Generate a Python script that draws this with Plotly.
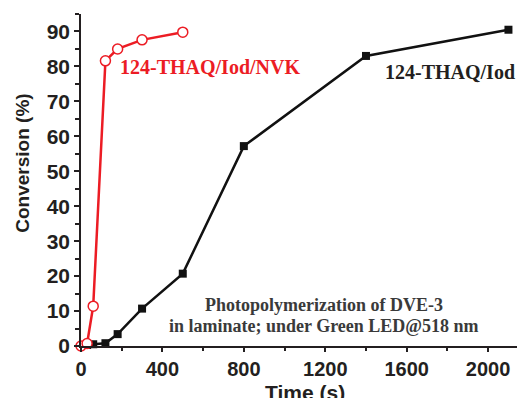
import plotly.graph_objects as go

# Conversion vs irradiation time
time_nvk = [0, 30, 60, 120, 180, 300, 500]
conv_nvk = [0, 0.7, 11.4, 81.6, 85.0, 87.6, 89.8]

time_iod = [0, 30, 60, 120, 180, 300, 500, 800, 1400, 2100]
conv_iod = [0, 0.3, 0.5, 0.8, 3.4, 10.7, 20.7, 57.2, 83.0, 90.5]

x_ticks = [0, 400, 800, 1200, 1600, 2000]
y_ticks = [0, 10, 20, 30, 40, 50, 60, 70, 80, 90]

RED = "#ec1c24"
INK = "#231f20"
SANS = "Liberation Sans"
SERIF = "Liberation Serif"


def bold(s):
    return "<b>" + s + "</b>"


fig = go.Figure()

fig.add_trace(go.Scatter(
    x=time_iod, y=conv_iod, mode="lines+markers", cliponaxis=False,
    line=dict(color="#111111", width=2.5),
    marker=dict(symbol="square", size=8, color="#111111"),
    showlegend=False,
))
fig.add_trace(go.Scatter(
    x=time_nvk, y=conv_nvk, mode="lines+markers", cliponaxis=False,
    line=dict(color=RED, width=2.5),
    marker=dict(symbol="circle", size=10, color="white",
                line=dict(color=RED, width=1.5)),
    showlegend=False,
))

axis_common = dict(
    showline=True, linecolor=INK, linewidth=1.5, showgrid=False, zeroline=False,
    ticks="outside", tickwidth=1.5, tickcolor=INK,
)

fig.update_xaxes(
    range=[0, 2142], tickvals=x_ticks, ticktext=[bold(str(v)) for v in x_ticks],
    ticklen=4, tickfont=dict(family=SANS, size=20, color=INK),
    minor=dict(tickvals=[200, 600, 1000, 1400, 1800], ticklen=3, tickwidth=1.5,
               tickcolor=INK, ticks="outside"),
    **axis_common,
)
fig.update_yaxes(
    range=[0, 95], tickvals=y_ticks, ticktext=[bold(str(v)) for v in y_ticks],
    ticklen=5, tickfont=dict(family=SANS, size=21, color=INK),
    minor=dict(tickvals=[5, 15, 25, 35, 45, 55, 65, 75, 85, 95], ticklen=4,
               tickwidth=1.5, tickcolor=INK, ticks="outside"),
    **axis_common,
)

annotations = [
    dict(x=636, y=79.9, xref="x", yref="y", text=bold("124-THAQ/Iod/NVK"),
         showarrow=False, font=dict(family=SERIF, size=20, color=RED)),
    dict(x=1811, y=78.5, xref="x", yref="y", text=bold("124-THAQ/Iod"),
         showarrow=False, font=dict(family=SERIF, size=20, color=INK)),
    dict(x=1194, y=11.7, xref="x", yref="y", text=bold("Photopolymerization of DVE-3"),
         showarrow=False, font=dict(family=SERIF, size=18, color="#3a3a3a")),
    dict(x=1194, y=5.6, xref="x", yref="y", text=bold("in laminate; under Green LED@518 nm"),
         showarrow=False, font=dict(family=SERIF, size=18, color="#3a3a3a")),
    dict(x=-0.133, y=0.549, xref="paper", yref="paper", text=bold("Conversion (%)"),
         textangle=-90, showarrow=False, xanchor="center", yanchor="middle",
         font=dict(family=SANS, size=19, color=INK)),
    dict(x=0.514, y=-0.139, xref="paper", yref="paper", text=bold("Time (s)"),
         showarrow=False, xanchor="center", yanchor="middle",
         font=dict(family=SANS, size=21, color=INK)),
]

fig.update_layout(
    width=517, height=398,
    margin=dict(l=81, r=0, t=14, b=52),
    paper_bgcolor="white", plot_bgcolor="white",
    annotations=annotations,
)

fig.write_html("out.html")
